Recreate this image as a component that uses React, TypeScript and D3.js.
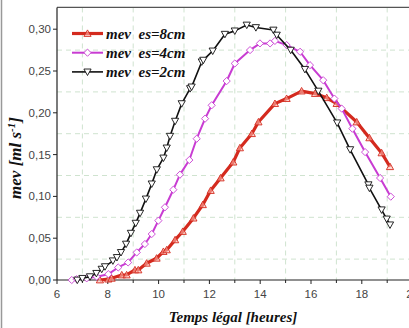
import React from "react";
import * as d3 from "d3";

const hours2cm = [6.8, 7.0, 7.3, 7.55, 7.76, 7.89, 8.2, 8.36, 8.52, 8.72, 8.91, 9.1, 9.27, 9.5, 9.73, 9.93, 10.19, 10.32, 10.45, 10.65, 10.91, 11.24, 11.3, 11.7, 11.76, 12.13, 12.61, 13.0, 13.47, 13.83, 14.52, 14.65, 15.2, 15.76, 16.29, 17.03, 17.54, 18.26, 18.3, 18.78, 18.98, 19.11];
const values2cm = [0.0, 0.002, 0.004, 0.008, 0.013, 0.016, 0.023, 0.027, 0.033, 0.043, 0.056, 0.068, 0.08, 0.097, 0.115, 0.132, 0.146, 0.158, 0.172, 0.19, 0.211, 0.229, 0.231, 0.261, 0.263, 0.274, 0.294, 0.298, 0.305, 0.302, 0.299, 0.293, 0.275, 0.252, 0.226, 0.188, 0.156, 0.114, 0.11, 0.084, 0.073, 0.066];

const hours4cm = [6.58, 6.77, 7.17, 7.56, 8.02, 8.41, 8.8, 9.14, 9.46, 9.73, 9.99, 10.25, 10.58, 10.84, 11.21, 11.5, 11.83, 12.09, 12.68, 13.0, 13.6, 13.99, 14.39, 14.58, 15.04, 15.57, 15.96, 16.48, 16.92, 17.21, 17.63, 18.13, 18.72, 19.14];
const values4cm = [0.0, 0.001, 0.002, 0.004, 0.007, 0.015, 0.021, 0.033, 0.043, 0.055, 0.071, 0.087, 0.108, 0.126, 0.1435, 0.169, 0.193, 0.209, 0.238, 0.259, 0.275, 0.283, 0.283, 0.286, 0.281, 0.273, 0.257, 0.239, 0.217, 0.205, 0.181, 0.153, 0.122, 0.0997];

const hours8cm = [7.69, 8.02, 8.15, 8.55, 8.74, 9.07, 9.2, 9.53, 9.92, 10.19, 10.32, 10.65, 10.95, 11.37, 11.74, 12.05, 12.44, 12.94, 13.2, 13.67, 13.93, 14.58, 15.04, 15.63, 16.16, 16.62, 17.01, 17.8, 18.3, 18.78, 19.11];
const values8cm = [0.0, 0.001, 0.002, 0.006, 0.006, 0.012, 0.012, 0.02, 0.026, 0.034, 0.036, 0.048, 0.058, 0.074, 0.09, 0.107, 0.122, 0.141, 0.158, 0.175, 0.189, 0.211, 0.217, 0.226, 0.223, 0.218, 0.211, 0.189, 0.17, 0.152, 0.1355];

const xTicks = [6, 8, 10, 12, 14, 16, 18, 20];
const yTicks = [0, 0.05, 0.1, 0.15, 0.2, 0.25, 0.3];
const xGrid = [7, 9, 11, 13, 15, 17, 19];
const yGrid = [0.025, 0.075, 0.125, 0.175, 0.225, 0.275];
const legendLabels = ["mev  es=8cm", "mev  es=4cm", "mev  es=2cm"];

const W = 409, H = 328;
const left = 57, right = 412.6, bottom = 280;

export default function App() {
  const x = d3.scaleLinear().domain([6, 20]).range([left, right]);
  const y = d3.scaleLinear().domain([0, 0.30]).range([bottom, bottom - 0.30 * 836]);
  const yTop = 0.326;

  const series = [
    { h: hours8cm, v: values8cm, color: "#d42a1e", width: 3.2, marker: "up", fill: "rgba(255,190,180,0.55)" },
    { h: hours4cm, v: values4cm, color: "#c83cd2", width: 2, marker: "diamond", fill: "#ffffff" },
    { h: hours2cm, v: values2cm, color: "#111111", width: 1.6, marker: "down", fill: "#ffffff" },
  ];
  const line = d3.line<[number, number]>().x(d => x(d[0])).y(d => y(d[1]));

  const marker = (type: string, cx: number, cy: number, color: string, fill: string, key: any) => {
    const s = 3.6;
    let d = "";
    if (type === "up") d = `M${cx},${cy - s}L${cx + s},${cy + s * 0.8}L${cx - s},${cy + s * 0.8}Z`;
    else if (type === "down") d = `M${cx},${cy + s}L${cx + s},${cy - s * 0.8}L${cx - s},${cy - s * 0.8}Z`;
    else d = `M${cx},${cy - s}L${cx + s},${cy}L${cx},${cy + s}L${cx - s},${cy}Z`;
    return <path key={key} d={d} fill={fill} stroke={color} strokeWidth={0.9} />;
  };

  const serifFont = "'Liberation Serif', 'DejaVu Serif', serif";
  const sansFont = "'Liberation Sans', Arial, sans-serif";

  return (
    <svg width={W} height={H} style={{ position: "absolute", left: 0, top: 0, background: "#fff" }}>
      <line x1={1.5} x2={1.5} y1={0} y2={H} stroke="#999" strokeWidth={1.5} />
      {xGrid.map(g => (
        <line key={"xg" + g} x1={x(g)} x2={x(g)} y1={y(yTop)} y2={bottom} stroke="#cfe3cf" strokeDasharray="5,4" strokeWidth={1} />
      ))}
      {yGrid.map(g => (
        <line key={"yg" + g} x1={left} x2={right} y1={y(g)} y2={y(g)} stroke="#cfe3cf" strokeDasharray="5,4" strokeWidth={1} />
      ))}
      <line x1={left} x2={right} y1={y(yTop)} y2={y(yTop)} stroke="#555" strokeWidth={1.2} />
      <line x1={left} x2={left} y1={y(yTop)} y2={bottom} stroke="#222" strokeWidth={1.2} />
      <line x1={left} x2={right} y1={bottom} y2={bottom} stroke="#222" strokeWidth={1.2} />
      {d3.range(6, 21).map(t => (
        <line key={"xt" + t} x1={x(t)} x2={x(t)} y1={bottom} y2={bottom + (t % 2 === 0 ? 4 : 3)} stroke="#222" strokeWidth={1} />
      ))}
      {xTicks.map(t => (
        <text key={"xl" + t} x={x(t)} y={bottom + 18} textAnchor="middle" fontFamily={sansFont} fontSize={11.5} fill="#444">{t}</text>
      ))}
      {yTicks.map(t => (
        <g key={"yt" + t}>
          <line x1={left - 4} x2={left} y1={y(t)} y2={y(t)} stroke="#222" strokeWidth={1} />
          <text x={left - 6} y={y(t) + 4} textAnchor="end" fontFamily={sansFont} fontSize={11.5} fill="#444">{d3.format(".2f")(t).replace(".", ",")}</text>
        </g>
      ))}
      {series.map((s, i) => {
        const pts = s.h.map((h, j) => [h, s.v[j]] as [number, number]);
        return (
          <g key={"s" + i}>
            <path d={line(pts) || ""} fill="none" stroke={s.color} strokeWidth={s.width} strokeLinejoin="round" />
            {pts.map((p, j) => marker(s.marker, x(p[0]), y(p[1]), s.color, s.fill, j))}
          </g>
        );
      })}
      {series.map((s, i) => {
        const ly = 33.5 + i * 19.2;
        return (
          <g key={"lg" + i}>
            <line x1={72} x2={103} y1={ly} y2={ly} stroke={s.color} strokeWidth={s.width} />
            {marker(s.marker, 87.5, ly, s.color, s.fill, "m")}
            <text x={106} y={ly + 5} fontFamily={serifFont} fontWeight="bold" fontStyle="italic" fontSize={15} fill="#111" xmlSpace="preserve">{legendLabels[i]}</text>
          </g>
        );
      })}
      <text x={233} y={322} textAnchor="middle" fontFamily={serifFont} fontWeight="bold" fontStyle="italic" fontSize={15} fill="#111">Temps légal [heures]</text>
      <text transform="translate(21,158) rotate(-90)" textAnchor="middle" fontFamily={serifFont} fontWeight="bold" fontStyle="italic" fontSize={17} fill="#111">
        mev [ml s<tspan dy={-6} fontSize={11}>-1</tspan><tspan dy={6}>]</tspan>
      </text>
    </svg>
  );
}
